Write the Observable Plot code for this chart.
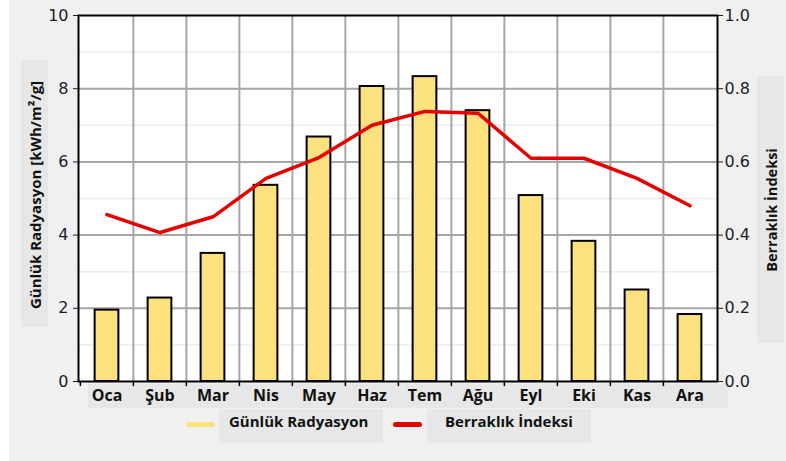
<!DOCTYPE html>
<html>
<head>
<meta charset="utf-8">
<script src="https://cdn.jsdelivr.net/npm/d3@7"></script>
<script src="https://cdn.jsdelivr.net/npm/@observablehq/plot@0.6"></script>
<style>
  html, body { margin: 0; padding: 0; background: #fff; }
  #wrap { position: relative; width: 786px; height: 461px; overflow: hidden;
          background: linear-gradient(to right, #fff 0, #fff 9px, #f0f0f0 9px); }
  .box { position: absolute; background: #e7e7e7; }
  .rot { position: absolute; white-space: nowrap; font-family: "Open Sans", sans-serif;
         font-weight: bold; color: #111; transform: translate(-50%, -50%) rotate(-90deg); }
  #chart { position: absolute; left: 0; top: 0; }
  .leg { position: absolute; font-family: "Open Sans", sans-serif; font-weight: bold;
         font-size: 15px; color: #111; white-space: nowrap; line-height: 20px; }
  .sw { position: absolute; height: 5px; border-radius: 3px; }
</style>
</head>
<body>
<div id="wrap">
  <div class="box" style="left:21px;top:60px;width:27px;height:267px"></div>
  <div class="box" style="left:757px;top:76px;width:27px;height:267px"></div>
  <div class="box" style="left:88px;top:384px;width:640px;height:24px"></div>
  <div class="box" style="left:219px;top:409px;width:164px;height:34px"></div>
  <div class="box" style="left:427px;top:409px;width:164px;height:34px"></div>
  <div id="ylabL" class="rot" style="left:34.5px;top:194.5px;font-size:15px"></div>
  <div id="ylabR" class="rot" style="left:770.5px;top:209.5px;font-size:14.5px"></div>
  <div id="chart"></div>
  <div id="legend"></div>
</div>
<script>
// ---- data ----
const months = ["Oca", "Şub", "Mar", "Nis", "May", "Haz", "Tem", "Ağu", "Eyl", "Eki", "Kas", "Ara"];
const radiation = [1.95, 2.28, 3.5, 5.36, 6.68, 8.06, 8.33, 7.4, 5.08, 3.83, 2.5, 1.83];
const clearness = [0.456, 0.407, 0.45, 0.555, 0.612, 0.70, 0.738, 0.733, 0.61, 0.61, 0.555, 0.48];
const leftTicks = [0, 2, 4, 6, 8, 10];
const rightTicks = [0.0, 0.2, 0.4, 0.6, 0.8, 1.0];
const minorTicks = [1, 3, 5, 7, 9];
const leftTitle = "Günlük Radyasyon [kWh/m²/g]";
const rightTitle = "Berraklık İndeksi";
const seriesNames = ["Günlük Radyasyon", "Berraklık İndeksi"];
const colors = ["#fde17f", "#e60000"];

const table = months.map((m, i) => ({month: m, rad: radiation[i], idx: clearness[i]}));

const W = 786, H = 410, mL = 78, mR = 69, mT = 15, mB = 29;
const bw = (W - mL - mR) / months.length;
const rScale = 10; // right axis (0–1) drawn on the 0–10 y scale

const chart = Plot.plot({
  width: W, height: H,
  marginLeft: mL, marginRight: mR, marginTop: mT, marginBottom: mB,
  style: {background: "transparent", fontFamily: "DejaVu Sans, sans-serif", fontSize: "16px", color: "#1c1c28"},
  x: {domain: months, padding: 0, label: null},
  y: {domain: [0, 10], label: null},
  marks: [
    Plot.frame({fill: "white"}),
    Plot.ruleY(minorTicks, {stroke: "#ececec", strokeWidth: 1.5}),
    Plot.ruleY(leftTicks.slice(1, -1), {stroke: "#a6a6a6", strokeWidth: 2}),
    Plot.ruleX(months.slice(1), {stroke: "#a6a6a6", strokeWidth: 2, dx: -bw / 2}),
    Plot.ruleX(months, {y1: 0, y2: -0.14, stroke: "black", strokeWidth: 1.5, dx: -bw / 2}),
    Plot.barY(table, {x: "month", y: "rad", fill: colors[0], stroke: "black", strokeWidth: 2,
                      insetLeft: (bw - 24) / 2, insetRight: (bw - 24) / 2}),
    Plot.line(table, {x: "month", y: d => d.idx * rScale, stroke: colors[1], strokeWidth: 3.5,
                      strokeLinejoin: "round"}),
    Plot.frame({stroke: "black", strokeWidth: 2}),
    Plot.axisY(leftTicks, {anchor: "left", tickSize: 5, tickPadding: 5, label: null,
                           tickFormat: d => String(d)}),
    Plot.axisY(rightTicks.map(v => v * rScale), {anchor: "right", tickSize: 5, tickPadding: 2, label: null,
                           tickFormat: d => (d / rScale).toFixed(1)}),
    Plot.axisX(months, {tickSize: 0, tickPadding: 8, label: null, fontFamily: "Open Sans, sans-serif",
                        fontWeight: "bold", fontSize: 16, fill: "#111"})
  ]
});
document.getElementById("chart").appendChild(chart);

document.getElementById("ylabL").textContent = leftTitle;
document.getElementById("ylabR").textContent = rightTitle;

const legend = document.getElementById("legend");
const legPos = [{sw: 186, tx: 229}, {sw: 393, tx: 445}];
seriesNames.forEach((name, i) => {
  const s = document.createElement("div");
  s.className = "sw";
  s.style.left = legPos[i].sw + "px";
  s.style.top = "421.5px";
  s.style.width = "29px";
  s.style.background = colors[i];
  legend.appendChild(s);
  const t = document.createElement("div");
  t.className = "leg";
  t.style.left = legPos[i].tx + "px";
  t.style.top = "411px";
  t.textContent = name;
  legend.appendChild(t);
});
</script>
</body>
</html>
